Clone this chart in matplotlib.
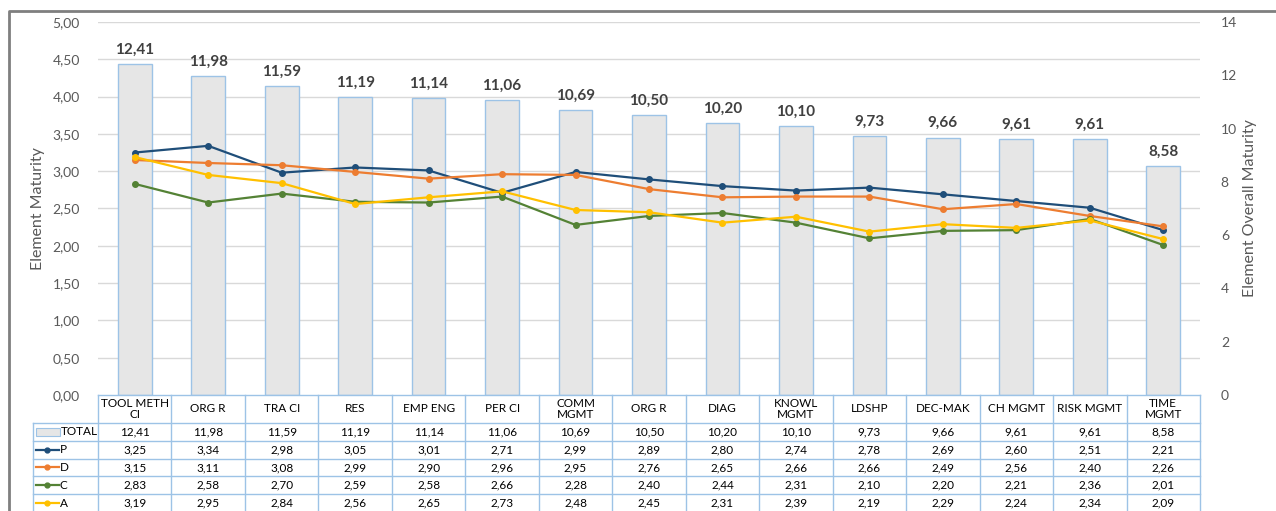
import matplotlib
matplotlib.use("Agg")
import matplotlib.pyplot as plt
from matplotlib.patches import Rectangle
from matplotlib.ticker import FuncFormatter

plt.rcParams['font.family'] = ['Lato', 'DejaVu Sans']

categories = ["TOOL METH\nCI", "ORG R", "TRA CI", "RES", "EMP ENG", "PER CI", "COMM\nMGMT",
              "ORG R", "DIAG", "KNOWL\nMGMT", "LDSHP", "DEC-MAK", "CH MGMT", "RISK MGMT", "TIME\nMGMT"]
total = [12.41, 11.98, 11.59, 11.19, 11.14, 11.06, 10.69, 10.50, 10.20, 10.10, 9.73, 9.66, 9.61, 9.61, 8.58]
P = [3.25, 3.34, 2.98, 3.05, 3.01, 2.71, 2.99, 2.89, 2.80, 2.74, 2.78, 2.69, 2.60, 2.51, 2.21]
D = [3.15, 3.11, 3.08, 2.99, 2.90, 2.96, 2.95, 2.76, 2.65, 2.66, 2.66, 2.49, 2.56, 2.40, 2.26]
C = [2.83, 2.58, 2.70, 2.59, 2.58, 2.66, 2.28, 2.40, 2.44, 2.31, 2.10, 2.20, 2.21, 2.36, 2.01]
A = [3.19, 2.95, 2.84, 2.56, 2.65, 2.73, 2.48, 2.45, 2.31, 2.39, 2.19, 2.29, 2.24, 2.34, 2.09]
series = [("P", P, "#1F4E79"), ("D", D, "#ED7D31"), ("C", C, "#548235"), ("A", A, "#FFC000")]
left_ticks = [i * 0.5 for i in range(11)]
right_ticks = list(range(0, 15, 2))

W, H = 1276, 511
fig = plt.figure(figsize=(W / 100, H / 100), dpi=100)

x0, x1, ytop, ybot = 98, 1200, 22, 395
ax = fig.add_axes([x0 / W, (H - ybot) / H, (x1 - x0) / W, (ybot - ytop) / H])
ax2 = ax.twinx()
ax.set_zorder(ax2.get_zorder() + 1)
ax.patch.set_visible(False)

n = len(categories)
xs = list(range(n))
ax2.set_ylim(0, 14)
for yv in left_ticks[1:]:
    ax2.axhline(yv * 14 / 5, color="#D9D9D9", lw=1, zorder=0)
ax2.bar(xs, total, width=0.46, color="#E6E6E6", edgecolor="#9DC3E6", linewidth=1.0, zorder=2)
for xi, v in zip(xs, total):
    ax2.text(xi, v + 0.28, f"{v:.2f}".replace(".", ","), ha="center", va="bottom",
             fontsize=11, fontweight="bold", color="#404040", zorder=3)
ax2.set_yticks(right_ticks)

for name, vals, col in series:
    ax.plot(xs, vals, color=col, lw=1.6, marker="o", ms=4, zorder=5)

ax.set_xlim(-0.5, n - 0.5)
ax.set_ylim(0, 5)
ax.set_yticks(left_ticks)
ax.yaxis.set_major_formatter(FuncFormatter(lambda v, p: f"{v:.2f}".replace(".", ",")))
ax.set_xticks([])
ax2.set_xticks([])
ax2.grid(False)
for a in (ax, ax2):
    for s in a.spines.values():
        s.set_visible(False)
ax.tick_params(axis="y", length=0, pad=13, labelsize=10, labelcolor="#595959")
ax2.tick_params(axis="y", length=0, pad=15, labelsize=10, labelcolor="#595959")
ax.set_ylabel("Element Maturity", fontsize=11.5, color="#595959")
ax.yaxis.set_label_coords((45 - x0) / (x1 - x0), 0.5)
ax2.set_ylabel("Element Overall Maturity", fontsize=11.5, color="#595959", rotation=90)
ax2.yaxis.set_label_coords((1243 - x0) / (x1 - x0), 0.5)

# table overlay in pixel coordinates
tax = fig.add_axes([0, 0, 1, 1])
tax.set_xlim(0, W)
tax.set_ylim(H, 0)
tax.axis("off")
tax.patch.set_visible(False)

# chart border
tax.plot([9, 9, W + 5], [H + 5, 11, 11], color="#7F7F7F", lw=2)

cw = (x1 - x0) / n
edge = "#9DC3E6"
hdr_top, hdr_bot = 395, 423
rh = 17.8
row_tops = [hdr_bot + i * rh for i in range(6)]
lab_x0 = 33

tax.plot([x0, x1], [hdr_top, hdr_top], color=edge, lw=1)
for yy in row_tops:
    tax.plot([lab_x0, x1], [yy, yy], color=edge, lw=1)
for i in range(n + 1):
    xx = x0 + i * cw
    tax.plot([xx, xx], [hdr_top, H + 2], color=edge, lw=1)
tax.plot([lab_x0, lab_x0], [hdr_bot, H + 2], color=edge, lw=1)

for i, cat in enumerate(categories):
    cx = x0 + (i + 0.5) * cw
    tax.text(cx, (hdr_top + hdr_bot) / 2, cat, ha="center", va="center", fontsize=8.5,
             color="#000000", linespacing=1.0)

rows = [("TOTAL", total, None)] + series
for r, (name, vals, col) in enumerate(rows):
    cy = row_tops[r] + rh / 2
    if col is None:
        tax.add_patch(Rectangle((36, cy - 4), 24, 8, facecolor="#E6E6E6", edgecolor="#9DC3E6", lw=0.8))
        tax.text(61, cy, name, ha="left", va="center", fontsize=8.5, color="#000000")
    else:
        tax.plot([36, 59], [cy, cy], color=col, lw=1.6)
        tax.plot([47], [cy], marker="o", ms=3.5, color=col)
        tax.text(60, cy, name, ha="left", va="center", fontsize=8.5, color="#000000")
    for i, v in enumerate(vals):
        cx = x0 + (i + 0.5) * cw
        tax.text(cx, cy, f"{v:.2f}".replace(".", ","), ha="center", va="center", fontsize=8.5, color="#000000")

fig.savefig("out.png", dpi=100)
